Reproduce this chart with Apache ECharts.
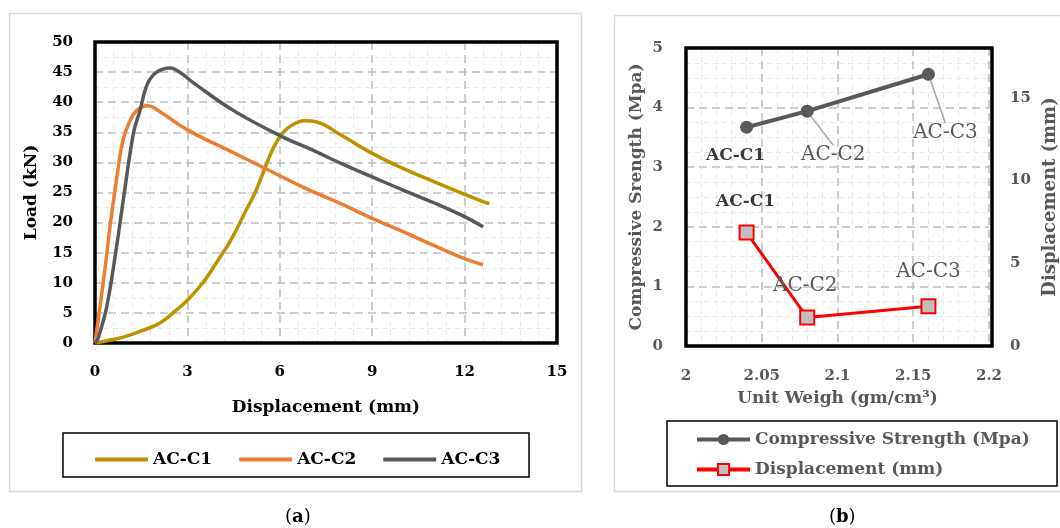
<!DOCTYPE html>
<html>
<head>
<meta charset="utf-8">
<script src="https://cdn.jsdelivr.net/npm/echarts@6/dist/echarts.min.js"></script>
<style>
  html, body { margin: 0; padding: 0; background: #fff; }
  #chart { width: 1060px; height: 528px; }
</style>
</head>
<body>
<div id="chart"></div>
<script>
// (a) load - displacement curves
var c1Disp = [0, 0.5, 1, 1.5, 2, 2.3, 2.6, 3, 3.5, 4, 4.4, 4.9, 5.2, 5.45, 5.8, 6.1, 6.4, 6.8, 7.2, 8, 9, 10, 11, 12, 12.8];
var c1Load = [0, 0.5, 1.1, 2, 3, 4, 5.3, 7.1, 10, 13.8, 17, 22, 25, 28.2, 32.5, 34.9, 36.2, 36.9, 36.7, 34.5, 31.5, 29, 26.8, 24.7, 23.1];
var c2Disp = [0, 0.16, 0.36, 0.49, 0.76, 0.91, 1.1, 1.35, 1.72, 2, 3, 4.5, 5.45, 6.75, 8, 9, 10, 11, 12, 12.6];
var c2Load = [0, 6, 13.8, 19.5, 29.3, 33.7, 36.5, 38.6, 39.4, 38.8, 35.4, 31.6, 29.2, 25.9, 23.1, 20.7, 18.5, 16.2, 14.0, 13];
var c3Disp = [0, 0.1, 0.38, 0.7, 0.92, 1.25, 1.46, 1.7, 2, 2.44, 2.8, 3.2, 4.5, 6.1, 7, 8, 9, 10, 11, 12, 12.6];
var c3Load = [0, 0.8, 6, 16, 23.8, 34.9, 38.6, 43, 45, 45.7, 44.8, 43.2, 38.6, 34.2, 32.2, 29.8, 27.6, 25.4, 23.3, 21, 19.3];
var curveNames = ['AC-C1', 'AC-C2', 'AC-C3'];

// (b) strength / displacement vs unit weight
var unitWeight = [2.04, 2.08, 2.16];
var strength = [3.67, 3.94, 4.56];
var peakDisp = [6.85, 1.72, 2.4];
var mixNames = ['AC-C1', 'AC-C2', 'AC-C3'];

var FONT = 'DejaVu Serif';
var csLabelOffset = [[-11, 28], [26, 44], [17, 59]];   // label shift (px)
var dispLabelOffset = [[-1, -31], [-2, -32], [0, -34]];

var gridA = { left: 95, top: 42, width: 462, height: 301 };
var gridB = { left: 686, top: 48, width: 306, height: 298 };

function pairs(xs, ys) {
  return xs.map(function (x, i) { return [x, ys[i]]; });
}

var majorLine = { show: true, lineStyle: { color: '#BDBDBD', width: 1.5, type: [8, 5] } };
var minorLine = { show: true, lineStyle: { color: '#E9E9E9', width: 1, type: [5, 4] } };

function pointLabel(i) {
  return {
    show: true,
    position: 'inside',
    formatter: mixNames[i],
    fontFamily: FONT,
    fontSize: i === 0 ? 17 : 20,
    fontWeight: i === 0 ? 'bold' : 'normal',
    color: i === 0 ? '#3A3A3A' : '#595959'
  };
}

//绘图区黑框
function frame(g) {
  return {
    type: 'rect', z: 1,
    shape: { x: g.left, y: g.top, width: g.width, height: g.height },
    style: { fill: 'none', stroke: '#000', lineWidth: 3.5 }
  };
}

var chart = echarts.init(document.getElementById('chart'));

var option = {
  backgroundColor: '#fff',
  animation: false,
  textStyle: { fontFamily: FONT },
  grid: [gridA, gridB],
  xAxis: [
    {
      type: 'value', gridIndex: 0, min: 0, max: 15, interval: 3,
      axisLine: { show: false }, axisTick: { show: false },
      axisLabel: { margin: 22, fontFamily: FONT, fontSize: 15, fontWeight: 'bold', color: '#000' },
      splitLine: majorLine,
      minorTick: { show: false, splitNumber: 5 }, minorSplitLine: minorLine,
      name: 'Displacement (mm)', nameLocation: 'middle', nameGap: 56,
      nameTextStyle: { fontFamily: FONT, fontSize: 17, fontWeight: 'bold', color: '#000' }
    },
    {
      type: 'value', gridIndex: 1, min: 2, max: 2.2, interval: 0.05,
      axisLine: { show: false }, axisTick: { show: false },
      axisLabel: { margin: 23, fontFamily: FONT, fontSize: 15, fontWeight: 'bold', color: '#595959' },
      splitLine: majorLine,
      minorTick: { show: false, splitNumber: 5 }, minorSplitLine: minorLine,
      name: 'Unit Weigh (gm/cm³)', nameLocation: 'middle', nameGap: 44,
      nameTextStyle: { fontFamily: FONT, fontSize: 17, fontWeight: 'bold', color: '#595959' }
    }
  ],
  yAxis: [
    {
      type: 'value', gridIndex: 0, min: 0, max: 50, interval: 5,
      axisLine: { show: false }, axisTick: { show: false },
      axisLabel: { margin: 22, fontFamily: FONT, fontSize: 15, fontWeight: 'bold', color: '#000' },
      splitLine: majorLine,
      minorTick: { show: false, splitNumber: 2 }, minorSplitLine: minorLine,
      name: 'Load (kN)', nameLocation: 'middle', nameGap: 55,
      nameTextStyle: { fontFamily: FONT, fontSize: 17, fontWeight: 'bold', color: '#000' }
    },
    {
      type: 'value', gridIndex: 1, min: 0, max: 5, interval: 1,
      axisLine: { show: false }, axisTick: { show: false },
      axisLabel: { margin: 23, fontFamily: FONT, fontSize: 15, fontWeight: 'bold', color: '#595959' },
      splitLine: majorLine,
      minorTick: { show: false, splitNumber: 4 }, minorSplitLine: minorLine,
      name: 'Compressive Srength (Mpa)', nameLocation: 'middle', nameGap: 41,
      nameTextStyle: { fontFamily: FONT, fontSize: 17, fontWeight: 'bold', color: '#595959' }
    },
    {
      type: 'value', gridIndex: 1, position: 'right', min: 0, max: 18, interval: 5,
      axisLine: { show: false }, axisTick: { show: false },
      axisLabel: { margin: 21, showMaxLabel: false, fontFamily: FONT, fontSize: 15, fontWeight: 'bold', color: '#595959' },
      splitLine: { show: false },
      name: 'Displacement (mm)', nameLocation: 'middle', nameGap: 52, nameRotate: 90,
      nameTextStyle: { fontFamily: FONT, fontSize: 18, fontWeight: 'bold', color: '#595959' }
    }
  ],
  legend: [
    {
      data: curveNames, left: 90, top: 446, orient: 'horizontal',
      icon: 'roundRect', itemWidth: 53, itemHeight: 4, itemGap: 27,
      textStyle: { fontFamily: FONT, fontSize: 17, fontWeight: 'bold', color: '#000' }
    },
    {
      data: ['Compressive Strength (Mpa)', 'Displacement (mm)'], left: 690, top: 426, orient: 'vertical',
      itemWidth: 53, itemHeight: 14, itemGap: 13,
      lineStyle: { width: 4 },
      textStyle: { fontFamily: FONT, fontSize: 17, fontWeight: 'bold', color: '#595959' }
    }
  ],
  graphic: [
    { type: 'rect', shape: { x: 9.5, y: 13.5, width: 572, height: 478 }, style: { fill: 'none', stroke: '#D9D9D9', lineWidth: 1.5 }, z: -1 },
    { type: 'rect', shape: { x: 614.5, y: 15.5, width: 460, height: 476 }, style: { fill: 'none', stroke: '#D9D9D9', lineWidth: 1.5 }, z: -1 },
    frame(gridA),
    frame(gridB),
    { type: 'rect', shape: { x: 63, y: 433, width: 466, height: 44 }, style: { fill: 'none', stroke: '#000', lineWidth: 1.5 } },
    { type: 'rect', shape: { x: 667, y: 421, width: 390, height: 65 }, style: { fill: 'none', stroke: '#000', lineWidth: 1.5 } },
    {
      type: 'text', left: 285, top: 508,
      style: { text: '({b|a})', fontFamily: FONT, fontSize: 18, fill: '#000', rich: { b: { fontFamily: FONT, fontSize: 18, fontWeight: 'bold', fill: '#000' } } }
    },
    {
      type: 'text', left: 829, top: 508,
      style: { text: '({b|b})', fontFamily: FONT, fontSize: 18, fill: '#000', rich: { b: { fontFamily: FONT, fontSize: 18, fontWeight: 'bold', fill: '#000' } } }
    }
  ],
  series: [
    {
      name: 'AC-C1', type: 'line', xAxisIndex: 0, yAxisIndex: 0, data: pairs(c1Disp, c1Load),
      symbol: 'none', smooth: 0.4, lineStyle: { color: '#BF9000', width: 3.5 }, itemStyle: { color: '#BF9000' }
    },
    {
      name: 'AC-C2', type: 'line', xAxisIndex: 0, yAxisIndex: 0, data: pairs(c2Disp, c2Load),
      symbol: 'none', smooth: 0.4, lineStyle: { color: '#ED7D31', width: 3.5 }, itemStyle: { color: '#ED7D31' }
    },
    {
      name: 'AC-C3', type: 'line', xAxisIndex: 0, yAxisIndex: 0, data: pairs(c3Disp, c3Load),
      symbol: 'none', smooth: 0.4, lineStyle: { color: '#595959', width: 3.5 }, itemStyle: { color: '#595959' }
    },
    {
      name: 'Compressive Strength (Mpa)', type: 'line', xAxisIndex: 1, yAxisIndex: 1,
      data: unitWeight.map(function (w, i) {
        return { value: [w, strength[i]], label: pointLabel(i), labelLine: { show: i > 0 } };
      }),
      symbol: 'circle', symbolSize: 13,
      lineStyle: { color: '#595959', width: 4 }, itemStyle: { color: '#595959' },
      labelLayout: function (p) {
        return { dx: csLabelOffset[p.dataIndex][0], dy: csLabelOffset[p.dataIndex][1] };
      },
      labelLine: { show: true, lineStyle: { color: '#A6A6A6', width: 1.5 } },
      z: 3
    },
    {
      name: 'Displacement (mm)', type: 'line', xAxisIndex: 1, yAxisIndex: 2,
      data: unitWeight.map(function (w, i) {
        return { value: [w, peakDisp[i]], label: pointLabel(i), labelLine: { show: false } };
      }),
      symbol: 'rect', symbolSize: 14,
      lineStyle: { color: '#FF0000', width: 3 },
      itemStyle: { color: '#BFBFBF', borderColor: '#FF0000', borderWidth: 2 },
      labelLayout: function (p) {
        return { dx: dispLabelOffset[p.dataIndex][0], dy: dispLabelOffset[p.dataIndex][1] };
      },
      z: 3
    }
  ]
};

chart.setOption(option);
</script>
</body>
</html>
